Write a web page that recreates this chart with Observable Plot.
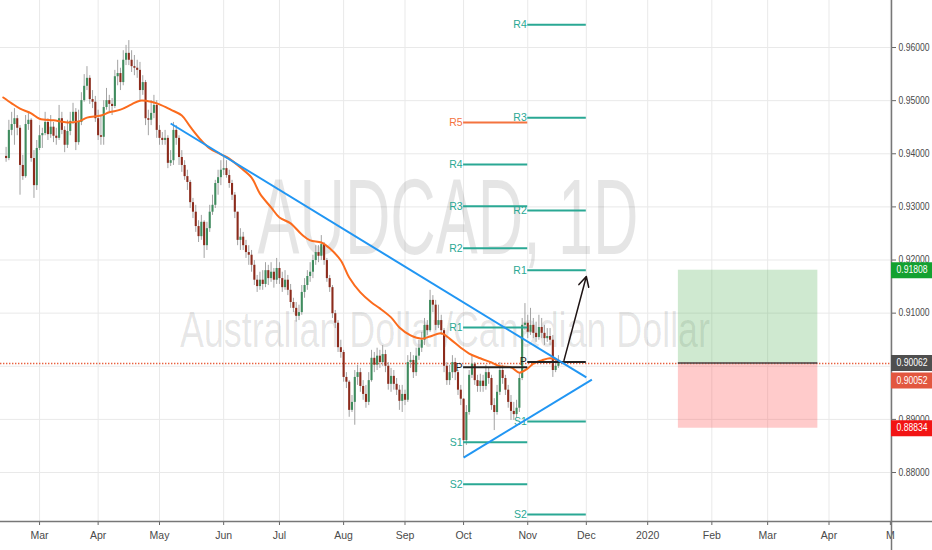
<!DOCTYPE html>
<html><head><meta charset="utf-8">
<script src="https://cdn.jsdelivr.net/npm/d3@7"></script>
<script src="https://cdn.jsdelivr.net/npm/@observablehq/plot@0.6"></script>
<style>body{margin:0;background:#fff;overflow:hidden}</style>
</head><body><div id="chart"></div>
<script>
// ---- data (AUDCAD daily, first bar 2019-02-13, one bar per weekday) ----
const firstBarDate = "2019-02-13";
const firstOpen = 0.9395;
const close = [0.9391,0.9444,0.9455,0.9466,0.9448,0.9378,0.9357,0.9455,0.9463,0.9391,0.9340,0.9410,
0.9434,0.9438,0.9459,0.9436,0.9450,0.9433,0.9429,0.9466,0.9444,0.9416,0.9442,0.9461,0.9478,0.9421,0.9459,0.9500,0.9527,0.9542,0.9502,0.9497,0.9466,0.9434,
0.9431,0.9487,0.9500,0.9493,0.9489,0.9545,0.9551,0.9534,0.9576,0.9589,0.9576,0.9564,0.9561,0.9557,0.9519,0.9534,0.9466,0.9463,0.9476,0.9491,0.9444,0.9429,
0.9425,0.9429,0.9382,0.9387,0.9444,0.9429,0.9393,0.9378,0.9357,0.9346,0.9308,0.9290,0.9263,0.9244,0.9271,0.9227,0.9259,0.9290,0.9303,0.9344,0.9355,0.9369,
0.9372,0.9359,0.9344,0.9322,0.9290,0.9237,0.9243,0.9227,0.9214,0.9209,0.9190,0.9162,0.9150,0.9162,0.9154,0.9180,0.9165,0.9177,0.9162,0.9184,
0.9165,0.9148,0.9162,0.9143,0.9120,0.9109,0.9094,0.9101,0.9139,0.9152,0.9169,0.9177,0.9199,0.9214,0.9207,0.9229,0.9199,0.9165,0.9148,0.9099,0.9081,0.9035,0.9026,
0.8979,0.8970,0.8917,0.8932,0.8979,0.8988,0.8962,0.8947,0.8932,0.8973,0.9015,0.9002,0.9019,0.9007,0.9022,0.9000,0.8966,0.8981,0.8966,0.8955,0.8934,0.8947,
0.8936,0.9007,0.9011,0.8988,0.9019,0.9034,0.9049,0.9077,0.9067,0.9124,0.9115,0.9077,0.9086,0.9067,0.9000,0.8973,0.8988,0.9007,0.8988,0.8955,0.8938,
0.8860,0.8913,0.8983,0.9004,0.8973,0.8962,0.8972,0.8962,0.8988,0.8977,0.8926,0.8913,0.8951,0.8992,0.8977,0.8955,0.8932,0.8915,0.8909,0.8921,0.8977,0.9077,0.9081,
0.9064,0.9077,0.9062,0.9054,0.9073,0.9062,0.9052,0.9056,0.9049,0.8992,0.9000,0.90052];
const high = [0.9412,0.9463,0.9478,0.9485,0.9472,0.9453,0.9397,0.9472,0.9478,0.9466,0.9406,0.9425,
0.9453,0.9448,0.9478,0.9466,0.9472,0.9459,0.9448,0.9491,0.9478,0.9451,0.9463,0.9478,0.9495,0.9485,0.9482,0.9515,0.9549,0.9564,0.9547,0.9519,0.9508,0.9482,
0.9472,0.9500,0.9523,0.9510,0.9504,0.9557,0.9576,0.9561,0.9594,0.9604,0.9613,0.9594,0.9585,0.9576,0.9572,0.9547,0.9538,0.9482,0.9500,0.9510,0.9500,0.9453,
0.9440,0.9444,0.9434,0.9406,0.9459,0.9453,0.9434,0.9406,0.9387,0.9369,0.9350,0.9316,0.9303,0.9274,0.9284,0.9274,0.9271,0.9303,0.9322,0.9350,0.9369,0.9387,
0.9393,0.9387,0.9369,0.9350,0.9327,0.9290,0.9259,0.9252,0.9237,0.9227,0.9218,0.9199,0.9171,0.9177,0.9180,0.9195,0.9190,0.9195,0.9184,0.9203,
0.9195,0.9177,0.9180,0.9171,0.9154,0.9128,0.9120,0.9115,0.9152,0.9165,0.9180,0.9195,0.9209,0.9227,0.9227,0.9246,0.9233,0.9203,0.9171,0.9152,0.9105,0.9086,0.9049,
0.9030,0.8988,0.8973,0.8945,0.8992,0.9002,0.8996,0.8973,0.8964,0.8988,0.9030,0.9026,0.9034,0.9030,0.9039,0.9030,0.9007,0.8996,0.8992,0.8977,0.8964,0.8964,
0.8955,0.9020,0.9026,0.9020,0.9034,0.9049,0.9064,0.9090,0.9086,0.9143,0.9133,0.9124,0.9115,0.9096,0.9071,0.9007,0.9002,0.9020,0.9015,0.8992,0.8964,
0.8939,0.8926,0.8992,0.9020,0.9007,0.8983,0.8985,0.8983,0.9002,0.8996,0.8983,0.8939,0.8964,0.9007,0.9002,0.8983,0.8964,0.8945,0.8932,0.8936,0.8988,0.9090,0.9118,
0.9096,0.9109,0.9090,0.9083,0.9096,0.9090,0.9077,0.9071,0.9071,0.9058,0.9015,0.9020];
const low = [0.9384,0.9387,0.9434,0.9416,0.9434,0.9322,0.9350,0.9354,0.9444,0.9384,0.9316,0.9331,
0.9406,0.9410,0.9434,0.9425,0.9429,0.9421,0.9416,0.9425,0.9436,0.9402,0.9410,0.9434,0.9455,0.9406,0.9416,0.9453,0.9497,0.9519,0.9493,0.9485,0.9459,0.9425,
0.9416,0.9416,0.9482,0.9478,0.9472,0.9485,0.9528,0.9519,0.9528,0.9566,0.9566,0.9553,0.9547,0.9542,0.9500,0.9510,0.9453,0.9434,0.9453,0.9466,0.9429,0.9416,
0.9416,0.9416,0.9372,0.9376,0.9378,0.9416,0.9378,0.9365,0.9350,0.9331,0.9297,0.9278,0.9252,0.9233,0.9237,0.9203,0.9218,0.9252,0.9284,0.9297,0.9322,0.9340,
0.9359,0.9354,0.9335,0.9312,0.9278,0.9227,0.9218,0.9218,0.9203,0.9190,0.9177,0.9152,0.9139,0.9143,0.9143,0.9148,0.9152,0.9158,0.9147,0.9154,
0.9154,0.9139,0.9143,0.9133,0.9109,0.9101,0.9083,0.9086,0.9096,0.9128,0.9143,0.9158,0.9165,0.9190,0.9195,0.9199,0.9190,0.9158,0.9139,0.9090,0.9071,0.9026,0.9015,
0.8970,0.8958,0.8904,0.8913,0.8889,0.8964,0.8951,0.8936,0.8921,0.8926,0.8970,0.8988,0.8992,0.8996,0.9000,0.8988,0.8955,0.8951,0.8955,0.8945,0.8917,0.8913,
0.8926,0.8932,0.8996,0.8977,0.8981,0.9011,0.9026,0.9039,0.9058,0.9064,0.9101,0.9067,0.9071,0.9058,0.8988,0.8964,0.8964,0.8977,0.8973,0.8945,0.8926,
0.8828,0.8851,0.8908,0.8977,0.8964,0.8951,0.8951,0.8951,0.8955,0.8966,0.8917,0.8879,0.8908,0.8945,0.8966,0.8945,0.8921,0.8898,0.8898,0.8902,0.8913,0.8973,0.9067,
0.9052,0.9058,0.9052,0.9045,0.9049,0.9052,0.9039,0.9045,0.9039,0.8979,0.8988,0.8996];

// moving average (bar number from first bar, value)
const maBar = [-1,2,5,9,12,17,22,26,29,34,37,41,45,48,52,55,59,63,66,70,73,77,80,84,88,91,95,98,102,106,109,113,116,120,123,127,131,134,138,141,145,149,152,156,159,163,166,170,174,177,181,184,187,189,192,195,198];
const maValue = [0.9506,0.9495,0.9485,0.9476,0.9466,0.9463,0.9459,0.9461,0.9468,0.9472,0.9478,0.9483,0.9493,0.9500,0.9498,0.9493,0.9483,0.9472,0.9451,0.9425,0.9410,0.9399,0.9391,0.9374,0.9355,0.9325,0.9299,0.9280,0.9269,0.9248,0.9237,0.9233,0.9222,0.9199,0.9167,0.9139,0.9120,0.9109,0.9092,0.9073,0.9058,0.9052,0.9056,0.9062,0.9052,0.9035,0.9024,0.9015,0.9007,0.9000,0.8998,0.8988,0.8996,0.9005,0.9011,0.9015,0.9011];

// month ticks
const tickDates = ["2019-03-01","2019-04-01","2019-05-01","2019-06-03","2019-07-01","2019-08-01","2019-09-02","2019-10-01","2019-11-01","2019-12-02","2020-01-01","2020-02-03","2020-03-02","2020-04-01","2020-05-01"];
const tickLabels = ["Mar","Apr","May","Jun","Jul","Aug","Sep","Oct","Nov","Dec","2020","Feb","Mar","Apr","M"];
const priceTicks = [0.88,0.89,0.90,0.91,0.92,0.93,0.94,0.95,0.96];

// monthly pivot levels
const octPivotNames = ["R5","R4","R3","R2","R1","P","S1","S2"];
const octPivotValues = [0.9459,0.9380,0.9301,0.9222,0.9073,0.8998,0.8857,0.8778];
const octPivotSpan = ["2019-10-01","2019-11-01"];
const novPivotNames = ["R4","R3","R2","R1","P","S1","S2"];
const novPivotValues = [0.9643,0.9468,0.9293,0.91808,0.9008,0.8896,0.8721];
const novPivotSpan = ["2019-11-01","2019-12-02"];

// drawings
const trendDates = [["2019-05-07","2019-12-02"],["2019-10-01","2019-12-04"]];
const trendValues = [[0.9457,0.8979],[0.8828,0.8975]];
const arrowDates = ["2019-11-20","2019-12-02"];
const arrowValues = [0.9011,0.9169];
const positionDates = ["2020-01-16","2020-03-26"];
const positionEntry = 0.90062, positionTarget = 0.91808, positionStop = 0.88834;
const lastPrice = 0.90052;

// ---- helpers ----
const t0 = Date.UTC(2019,1,13);
function ord(s){const [y,m,d]=s.split("-").map(Number);const t=Date.UTC(y,m-1,d);let n=0;for(let u=t0;u<t;u+=864e5){const w=new Date(u).getUTCDay();if(w!==0&&w!==6)n++;}return n;}

const bars = close.map((c,i)=>({x:i,o:i?close[i-1]:firstOpen,c,h:high[i],l:low[i]}));
const ma = maBar.map((b,i)=>({x:b,y:maValue[i]}));
const xTicks = tickDates.map(ord);
const labelOf = new Map(xTicks.map((t,i)=>[t,tickLabels[i]]));
const xMin=-2, xMax=317.4;

function pivots(names, values, span){const a=ord(span[0]),b=ord(span[1]);return names.map((n,i)=>({n,v:values[i],x1:a,x2:b}));}
const piv = [...pivots(octPivotNames,octPivotValues,octPivotSpan),...pivots(novPivotNames,novPivotValues,novPivotSpan)];
const pivColor = d => d.n==="R5" ? "#f4733f" : d.n==="P" ? "#222" : "#2aa894";
const trends = trendDates.map((d,i)=>({x1:ord(d[0]),x2:ord(d[1]),y1:trendValues[i][0],y2:trendValues[i][1]}));
const arrow = [{x1:ord(arrowDates[0]),x2:ord(arrowDates[1]),y1:arrowValues[0],y2:arrowValues[1]}];
const px1 = ord(positionDates[0]), px2 = ord(positionDates[1]);

const GREEN="#3f8c5e", RED="#8c2b1c";
const priceLabels = [
  {v:positionTarget, bg:"#13a130", dy:0},
  {v:positionEntry, bg:"#4f4f4f", dy:0},
  {v:lastPrice, bg:"#e2573f", dy:17},
  {v:positionStop, bg:"#f21414", dy:0}
];

const chart = Plot.plot({
  width:932, height:550, marginLeft:0, marginRight:41, marginTop:0, marginBottom:29,
  style:{fontFamily:"'Liberation Sans', Arial, sans-serif", fontSize:"10px", background:"#fff", overflow:"visible"},
  x:{domain:[xMin,xMax], axis:null},
  y:{domain:[0.87078,0.96885], axis:null},
  marks:[
    Plot.gridY(priceTicks,{stroke:"#e9e9e9",strokeOpacity:1}),
    Plot.gridX(xTicks,{stroke:"#e9e9e9",strokeOpacity:1}),
    Plot.text(["AUDCAD, 1D"],{frameAnchor:"middle",dx:2,dy:-41,fontSize:107,fill:"#000",fillOpacity:0.1}),
    Plot.text(["Australian Dollar/Canadian Dollar"],{frameAnchor:"middle",dx:-1,dy:70,fontSize:50,fill:"#000",fillOpacity:0.1}),
    Plot.rect([0],{x1:px1,x2:px2,y1:positionEntry,y2:positionTarget,fill:"rgb(76,175,80)",fillOpacity:0.27}),
    Plot.rect([0],{x1:px1,x2:px2,y1:positionStop,y2:positionEntry,fill:"rgb(255,82,82)",fillOpacity:0.3}),
    Plot.ruleY([lastPrice],{stroke:"#e8603f",strokeWidth:1.4,strokeDasharray:"1.4,1.6"}),
    Plot.ruleY([positionEntry],{x1:px1,x2:px2,stroke:"#444",strokeWidth:1.5}),
    Plot.ruleX(bars,{x:"x",y1:"l",y2:"h",stroke:"#a3a3a3",strokeWidth:1}),
    Plot.ruleX(bars,{x:"x",y1:"o",y2:"c",stroke:d=>d.c>=d.o?GREEN:RED,strokeWidth:2.1}),
    Plot.line(ma,{x:"x",y:"y",curve:"catmull-rom",stroke:"#fb6b1d",strokeWidth:2}),
    Plot.ruleY(piv,{y:"v",x1:"x1",x2:"x2",stroke:pivColor,strokeWidth:2}),
    Plot.text(piv,{x:"x1",y:"v",text:"n",textAnchor:"end",dx:-1,fill:pivColor,fontSize:10.5}),
    Plot.link(trends,{x1:"x1",y1:"y1",x2:"x2",y2:"y2",stroke:"#2196f3",strokeWidth:2}),
    Plot.arrow(arrow,{x1:"x1",y1:"y1",x2:"x2",y2:"y2",stroke:"#1e1414",strokeWidth:1.5,headLength:11,headAngle:55}),
    Plot.axisX(xTicks,{anchor:"bottom",tickFormat:d=>labelOf.get(d),tickSize:4,tickPadding:6,stroke:"#666",fill:"#4a4a4a",fontSize:10.5}),
    Plot.axisY(priceTicks,{anchor:"right",tickFormat:d3.format(".5f"),tickSize:4,tickPadding:3,stroke:"#666",fill:"#4a4a4a",fontSize:10}),
    Plot.ruleX([xMax],{stroke:"#777",strokeWidth:1.5,insetBottom:-29}),
    Plot.ruleY([0.87078],{stroke:"#777",strokeWidth:1.5,insetRight:-41}),
    ...priceLabels.map(p=>Plot.ruleY([p.v],{x1:xMax,x2:xMax+15,stroke:p.bg,strokeWidth:16,dy:p.dy})),
    ...priceLabels.map(p=>Plot.text([p.v],{x:xMax,y:d=>d,text:d=>d.toFixed(5),textAnchor:"start",dx:5,dy:p.dy,fill:"#fff",fontSize:10}))
  ]
});
document.getElementById("chart").appendChild(chart);
const fit = {"AUDCAD, 1D":381, "Australian Dollar/Canadian Dollar":530};
d3.select(chart).selectAll("text").each(function(){
  const s = this.textContent;
  if (fit[s]) d3.select(this).attr("textLength",fit[s]).attr("lengthAdjust","spacingAndGlyphs");
  else if (/^0\.\d{5}$/.test(s)) d3.select(this).attr("textLength",31).attr("lengthAdjust","spacingAndGlyphs");
});
</script>
</body></html>
